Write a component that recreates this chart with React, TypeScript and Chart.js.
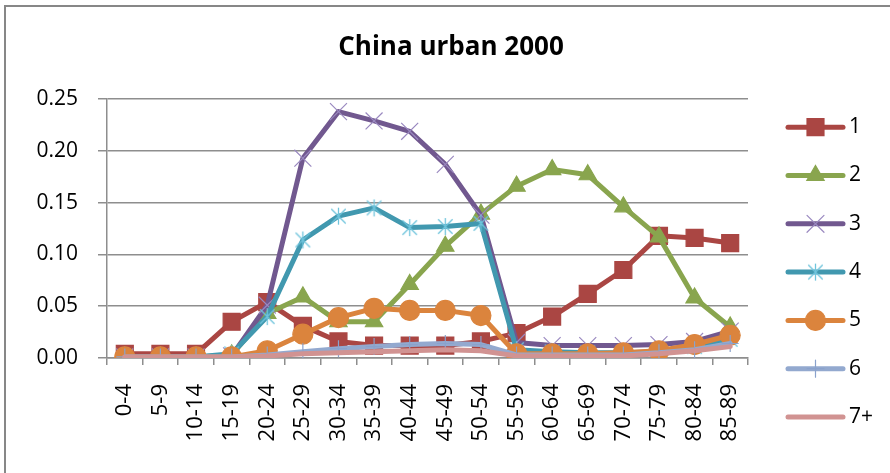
import React, { useEffect, useRef } from 'react';
import { Chart, registerables, layouts } from 'chart.js';
import { drawPoint } from 'chart.js/helpers';

Chart.register(...registerables);

// Age groups along the x axis
const ageGroups = [
  '0-4', '5-9', '10-14', '15-19', '20-24', '25-29', '30-34', '35-39', '40-44',
  '45-49', '50-54', '55-59', '60-64', '65-69', '70-74', '75-79', '80-84', '85-89',
];

// Share of each household-size group per age group
const size1 = [0.004, 0.004, 0.004, 0.035, 0.054, 0.031, 0.016, 0.012, 0.012, 0.012, 0.016, 0.024, 0.040, 0.062, 0.085, 0.118, 0.116, 0.111];
const size2 = [0.001, 0.001, 0.001, 0.003, 0.043, 0.059, 0.035, 0.035, 0.071, 0.108, 0.139, 0.166, 0.182, 0.177, 0.146, 0.117, 0.058, 0.030];
const size3 = [0.001, 0.001, 0.001, 0.002, 0.051, 0.193, 0.238, 0.229, 0.219, 0.187, 0.138, 0.015, 0.012, 0.012, 0.012, 0.013, 0.016, 0.026];
const size4 = [0.001, 0.001, 0.001, 0.004, 0.040, 0.114, 0.137, 0.145, 0.126, 0.127, 0.130, 0.008, 0.006, 0.005, 0.005, 0.006, 0.011, 0.018];
const size5 = [0.001, 0.001, 0.001, 0.001, 0.007, 0.023, 0.039, 0.048, 0.046, 0.046, 0.041, 0.004, 0.004, 0.004, 0.005, 0.007, 0.013, 0.022];
const size6 = [0.001, 0.001, 0.001, 0.001, 0.003, 0.006, 0.009, 0.011, 0.013, 0.014, 0.013, 0.003, 0.003, 0.003, 0.003, 0.005, 0.008, 0.014];
const size7 = [0.001, 0.001, 0.001, 0.001, 0.002, 0.004, 0.005, 0.006, 0.007, 0.008, 0.007, 0.002, 0.002, 0.002, 0.002, 0.004, 0.007, 0.011];

const seriesLabels = ['1', '2', '3', '4', '5', '6', '7+'];

// Y axis range
const yMin = 0;
const yMax = 0.25;
const yStep = 0.05;

const chartTitle = 'China urban 2000';

const FONT = "'Open Sans', 'Liberation Sans', sans-serif";
const GRID = '#8e8e8e';
const LEGEND_WIDTH = 142;

// Six-armed asterisk marker (an X with a vertical bar)
function makeAsterisk(color: string, size: number): HTMLCanvasElement {
  const c = document.createElement('canvas');
  c.width = size;
  c.height = size;
  const g = c.getContext('2d')!;
  g.strokeStyle = color;
  g.lineWidth = 1.3;
  const m = size / 2;
  const r = size / 2 - 1;
  const d = r * 0.85;
  g.beginPath();
  g.moveTo(m - d, m - d);
  g.lineTo(m + d, m + d);
  g.moveTo(m + d, m - d);
  g.lineTo(m - d, m + d);
  g.moveTo(m, m - r);
  g.lineTo(m, m + r);
  g.stroke();
  return c;
}

// Legend on the right: a short line with the series marker, then the label
const sideLegend = {
  id: 'sideLegend',
  beforeInit(chart: any) {
    const box: any = {
      position: 'right',
      weight: 1000,
      fullSize: false,
      options: {},
      left: 0, top: 0, right: 0, bottom: 0, width: 0, height: 0,
      isHorizontal() { return false; },
      update(_maxWidth: number, maxHeight: number) {
        this.width = LEGEND_WIDTH;
        this.height = maxHeight;
      },
      draw() {
        const ctx = chart.ctx as CanvasRenderingContext2D;
        const area = chart.chartArea;
        ctx.save();
        chart.data.datasets.forEach((ds: any, i: number) => {
          const y = area.top + 28 + i * 48.3;
          const x0 = box.left + 40;
          const x1 = box.left + 95;
          ctx.strokeStyle = ds.borderColor;
          ctx.lineWidth = ds.borderWidth;
          ctx.lineCap = 'round';
          ctx.beginPath();
          ctx.moveTo(x0, y);
          ctx.lineTo(x1, y);
          ctx.stroke();
          if (ds.pointRadius > 0) {
            ctx.fillStyle = ds.pointBackgroundColor;
            ctx.strokeStyle = ds.pointBorderColor;
            ctx.lineWidth = ds.pointBorderWidth;
            drawPoint(ctx, {
              pointStyle: ds.pointStyle,
              radius: ds.pointRadius,
              rotation: 0,
              borderWidth: ds.pointBorderWidth,
            } as any, (x0 + x1) / 2, y);
          }
          ctx.fillStyle = '#000';
          ctx.font = `21px ${FONT}`;
          ctx.textBaseline = 'middle';
          ctx.textAlign = 'left';
          ctx.fillText(ds.label, x1 + 6, y);
        });
        ctx.restore();
      },
    };
    layouts.addBox(chart, box);
  },
};

export default function App() {
  const canvasRef = useRef<HTMLCanvasElement>(null);

  useEffect(() => {
    const canvas = canvasRef.current;
    if (!canvas) return;

    const asterisk = makeAsterisk('#6fc4dc', 19);
    const values = [size1, size2, size3, size4, size5, size6, size7];
    const styles = [
      { line: '#AA4643', style: 'rect', radius: 12, fill: '#AA4643', edge: '#AA4643' },
      { line: '#89A54E', style: 'triangle', radius: 10, fill: '#89A54E', edge: '#89A54E' },
      { line: '#71588F', style: 'crossRot', radius: 12, fill: '#9a89c0', edge: '#9a89c0' },
      { line: '#4198AF', style: asterisk, radius: 9, fill: '#6fc4dc', edge: '#6fc4dc' },
      { line: '#DB843D', style: 'circle', radius: 10, fill: '#DB843D', edge: '#DB843D' },
      { line: '#93A9CF', style: 'cross', radius: 8.5, fill: '#93A9CF', edge: '#8aa2cc' },
      { line: '#D19392', style: 'circle', radius: 0, fill: '#D19392', edge: '#D19392' },
    ];

    const datasets = values.map((data, i) => ({
      label: seriesLabels[i],
      data,
      borderColor: styles[i].line,
      backgroundColor: styles[i].line,
      borderWidth: 5,
      pointStyle: styles[i].style as any,
      pointRadius: styles[i].radius,
      pointBackgroundColor: styles[i].fill,
      pointBorderColor: styles[i].edge,
      pointBorderWidth: 1.2,
      tension: 0,
      borderJoinStyle: 'round' as const,
      borderCapStyle: 'round' as const,
      order: values.length - i,
    }));

    const chart = new Chart(canvas, {
      type: 'line',
      data: { labels: ageGroups, datasets },
      options: {
        responsive: false,
        animation: false,
        devicePixelRatio: 1,
        layout: { padding: { left: 12, right: 0, top: 0, bottom: 0 } },
        plugins: {
          legend: { display: false },
          tooltip: { enabled: false },
          title: {
            display: true,
            text: chartTitle,
            color: '#000',
            font: { family: FONT, size: 26, weight: 'bold' },
            padding: { top: 32, bottom: 36 },
          },
        },
        scales: {
          x: {
            type: 'category',
            offset: true,
            grid: {
              display: true,
              drawOnChartArea: false,
              drawTicks: true,
              tickLength: 7,
              offset: true,
              color: GRID,
              lineWidth: 1.5,
            },
            border: { display: true, color: GRID, width: 1.5 },
            ticks: {
              autoSkip: false,
              minRotation: 90,
              maxRotation: 90,
              padding: 19,
              color: '#000',
              font: { family: FONT, size: 22 },
            },
            afterFit: (s: any) => { s.height = 115; },
          },
          y: {
            min: yMin,
            max: yMax,
            ticks: {
              stepSize: yStep,
              padding: 20,
              color: '#000',
              font: { family: FONT, size: 21 },
              callback: (v: any) => Number(v).toFixed(2),
            },
            grid: { color: GRID, lineWidth: 1.5, tickLength: 9 },
            border: { display: true, color: GRID, width: 1.5 },
            afterFit: (s: any) => { s.width = 95; },
          },
        },
      },
      plugins: [sideLegend],
    });

    return () => chart.destroy();
  }, []);

  return (
    <div
      style={{
        position: 'fixed', left: 0, top: 0, width: 890, height: 473,
        background: '#fff', overflow: 'hidden',
      }}
    >
      <canvas
        ref={canvasRef}
        width={890}
        height={473}
        style={{ position: 'absolute', left: 0, top: 0, width: 890, height: 473 }}
      />
      <div
        style={{
          position: 'absolute', left: 4, top: 5, width: 900, height: 520,
          border: '2px solid #878787', pointerEvents: 'none',
        }}
      />
    </div>
  );
}
